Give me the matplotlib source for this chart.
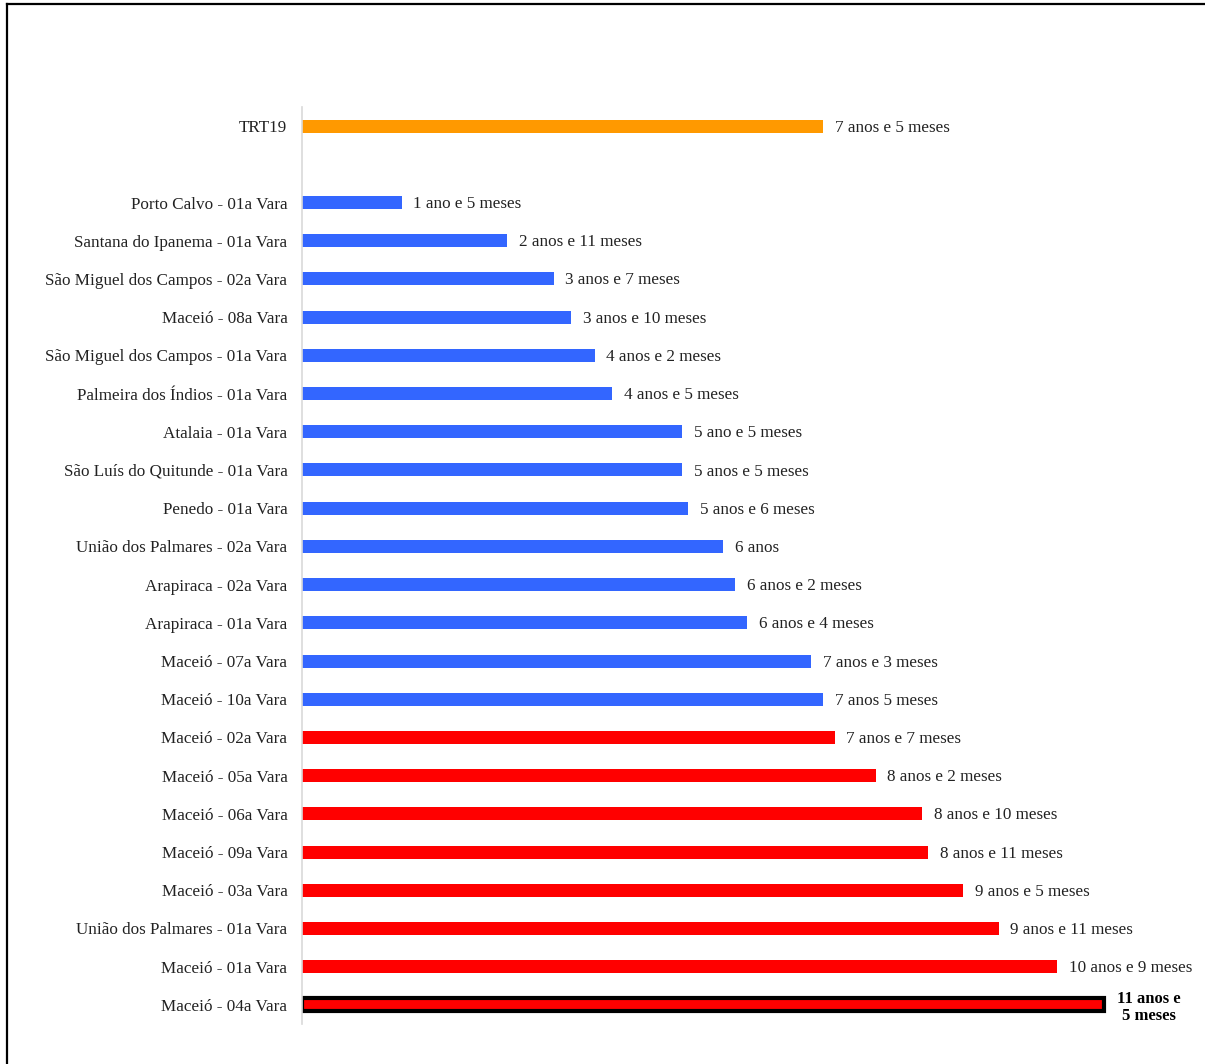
import matplotlib
matplotlib.use('Agg')
import matplotlib.pyplot as plt
from matplotlib.lines import Line2D

# Tempo médio de tramitação por vara (em meses), TRT19 no topo
varas = ["TRT19", "",
         "Porto Calvo - 01a Vara", "Santana do Ipanema - 01a Vara",
         "São Miguel dos Campos - 02a Vara", "Maceió - 08a Vara",
         "São Miguel dos Campos - 01a Vara", "Palmeira dos Índios - 01a Vara",
         "Atalaia - 01a Vara", "São Luís do Quitunde - 01a Vara",
         "Penedo - 01a Vara", "União dos Palmares - 02a Vara",
         "Arapiraca - 02a Vara", "Arapiraca - 01a Vara",
         "Maceió - 07a Vara", "Maceió - 10a Vara", "Maceió - 02a Vara",
         "Maceió - 05a Vara", "Maceió - 06a Vara", "Maceió - 09a Vara",
         "Maceió - 03a Vara", "União dos Palmares - 01a Vara",
         "Maceió - 01a Vara", "Maceió - 04a Vara"]
meses = [89, None, 17, 35, 43, 46, 50, 53, 65, 65, 66, 72, 74, 76,
         87, 89, 91, 98, 106, 107, 113, 119, 129, 137]
rotulos = ["7 anos e 5 meses", "",
           "1 ano e 5 meses", "2 anos e 11 meses", "3 anos e 7 meses",
           "3 anos e 10 meses", "4 anos e 2 meses", "4 anos e 5 meses",
           "5 ano e 5 meses", "5 anos e 5 meses", "5 anos e 6 meses",
           "6 anos", "6 anos e 2 meses", "6 anos e 4 meses",
           "7 anos e 3 meses", "7 anos 5 meses", "7 anos e 7 meses",
           "8 anos e 2 meses", "8 anos e 10 meses", "8 anos e 11 meses",
           "9 anos e 5 meses", "9 anos e 11 meses", "10 anos e 9 meses",
           "11 anos e\n5 meses"]
grupo = ["trt", None] + ["azul"] * 14 + ["vermelho"] * 8

cores = {"trt": "#FF9900", "azul": "#3366FF", "vermelho": "#FF0000"}

plt.rcParams['font.family'] = ['Liberation Serif', 'DejaVu Serif']

W, H = 1205, 1064
fig = plt.figure(figsize=(W / 100, H / 100), dpi=100)
ax = fig.add_axes([302 / W, (H - 1024) / H, (1180 - 302) / W, 917 / H])

for i, (v, txt, g) in enumerate(zip(meses, rotulos, grupo)):
    if v is None:
        continue
    destaque = i == len(meses) - 1
    ax.barh(i, v, height=0.34, color=cores[g],
            edgecolor='black' if destaque else 'none',
            linewidth=3 if destaque else 0)
    if destaque:
        ax.text(v + 2.2, i + 0.06, txt, va='center', ha='left', fontsize=12,
                fontweight='bold', multialignment='center', linespacing=1.1)
    else:
        ax.text(v + 2.0, i + 0.04, txt, va='center', ha='left', fontsize=12.3,
                color='#222222')

ax.set_xlim(0, 150)
ax.set_ylim(len(varas) - 0.5, -0.5)
ax.set_yticks(range(len(varas)))
ax.set_yticklabels(varas, fontsize=12.3, color='#222222')
ax.tick_params(axis='y', length=0, pad=10.5)
ax.set_xticks([])
for s in ['top', 'right', 'bottom']:
    ax.spines[s].set_visible(False)
ax.spines['left'].set_color('#D9D9D9')
ax.spines['left'].set_linewidth(1.2)

# moldura externa
fig.add_artist(Line2D([7 / W, 7 / W], [0, 1 - 4 / H], color='black', lw=1.6))
fig.add_artist(Line2D([7 / W, 1], [1 - 4 / H, 1 - 4 / H], color='black', lw=1.6))

fig.savefig('out.png', dpi=100)
